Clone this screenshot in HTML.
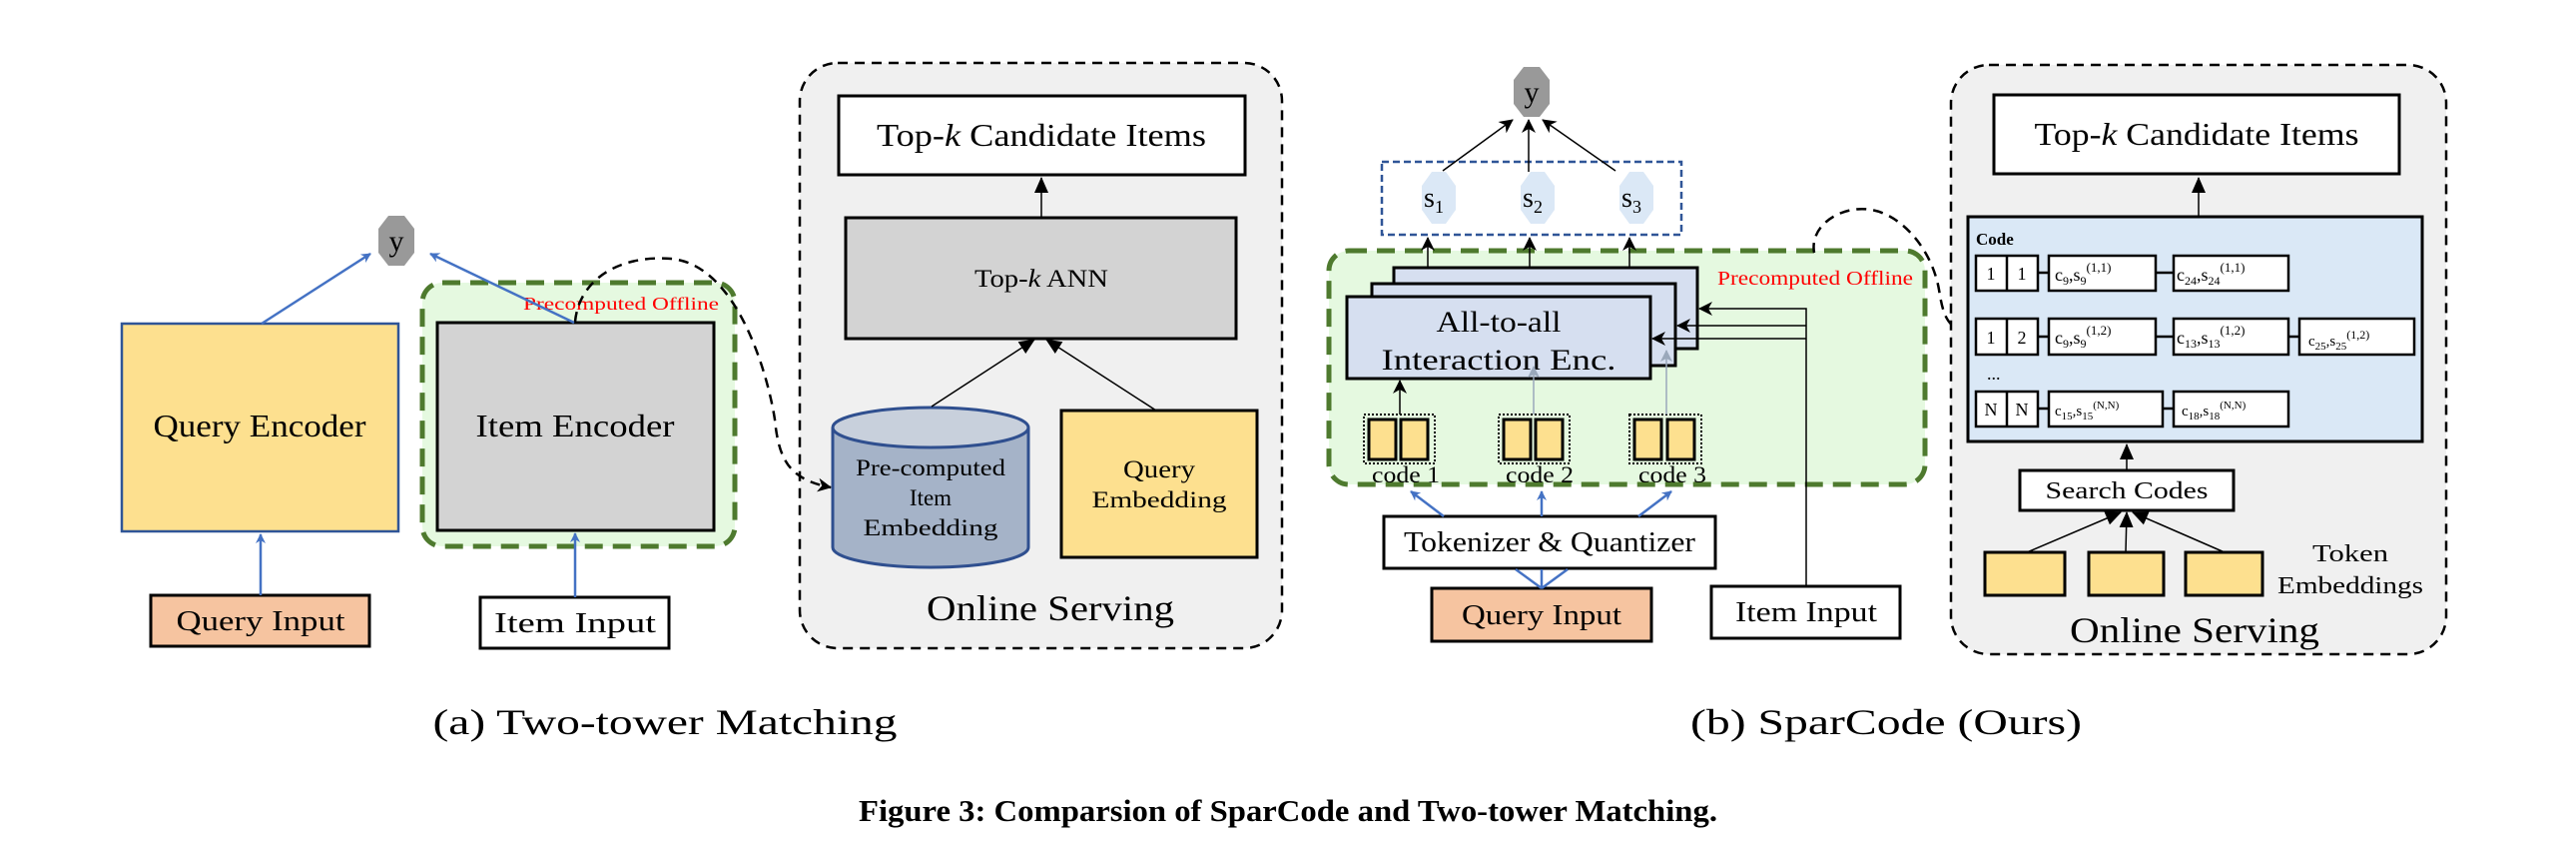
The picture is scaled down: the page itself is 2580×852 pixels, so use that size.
<!DOCTYPE html>
<html><head><meta charset="utf-8"><style>
html,body{margin:0;padding:0;background:#fff;}
svg{display:block;}
text{font-family:"Liberation Serif","DejaVu Serif",serif;fill:#000;}
</style></head><body>
<svg width="2580" height="852" viewBox="0 0 2580 852" xmlns="http://www.w3.org/2000/svg">
<defs>
<marker id="ab" markerWidth="10" markerHeight="10" refX="9" refY="5" orient="auto" markerUnits="userSpaceOnUse"><path d="M0,0 L10,5 L0,10 L3,5 z" fill="#4472c4"/></marker>
<marker id="ak" markerWidth="14" markerHeight="14" refX="13" refY="7" orient="auto" markerUnits="userSpaceOnUse"><path d="M0,0 L14,7 L0,14 L4,7 z" fill="#000"/></marker>
<marker id="akf" markerWidth="16" markerHeight="14" refX="15" refY="7" orient="auto" markerUnits="userSpaceOnUse"><path d="M0,0 L16,7 L0,14 z" fill="#000"/></marker>
<marker id="ag" markerWidth="12" markerHeight="12" refX="11" refY="6" orient="auto" markerUnits="userSpaceOnUse"><path d="M0,0 L12,6 L0,12 L3,6 z" fill="#9aa8bb"/></marker>
</defs>

<!-- ===== (a) ===== -->
<rect x="423" y="283" width="313" height="264" rx="20" fill="#e5f9e0" stroke="#4e7a2e" stroke-width="5" stroke-dasharray="18,10"/>
<rect x="122" y="324" width="277" height="208" fill="#fde08f" stroke="#2f5597" stroke-width="2.5"/>
<text x="260" y="437" font-size="32" text-anchor="middle" textLength="213" lengthAdjust="spacingAndGlyphs">Query Encoder</text>
<rect x="438" y="323" width="277" height="208" fill="#d3d3d3" stroke="#000" stroke-width="3"/>
<text x="576" y="437" font-size="32" text-anchor="middle" textLength="199" lengthAdjust="spacingAndGlyphs">Item Encoder</text>
<text x="622" y="310" font-size="18" text-anchor="middle" style="fill:#ff0000" textLength="196" lengthAdjust="spacingAndGlyphs">Precomputed Offline</text>
<polygon points="389,216 405,216 415,229 415,253 405,266 389,266 379,253 379,229" fill="#999"/>
<text x="397" y="251" font-size="30" text-anchor="middle">y</text>
<line x1="262" y1="324" x2="371" y2="254" stroke="#4472c4" stroke-width="2.5" marker-end="url(#ab)"/>
<line x1="575" y1="323" x2="431" y2="254" stroke="#4472c4" stroke-width="2.5" marker-end="url(#ab)"/>
<rect x="151" y="596" width="219" height="51" fill="#f6c4a0" stroke="#000" stroke-width="3"/>
<text x="261" y="631" font-size="28" text-anchor="middle" textLength="169" lengthAdjust="spacingAndGlyphs">Query Input</text>
<rect x="481" y="598" width="189" height="51" fill="#fff" stroke="#000" stroke-width="3"/>
<text x="576" y="633" font-size="28" text-anchor="middle" textLength="162" lengthAdjust="spacingAndGlyphs">Item Input</text>
<line x1="261" y1="596" x2="261" y2="535" stroke="#4472c4" stroke-width="2.5" marker-end="url(#ab)"/>
<line x1="576" y1="598" x2="576" y2="534" stroke="#4472c4" stroke-width="2.5" marker-end="url(#ab)"/>
<rect x="801" y="63" width="483" height="586" rx="38" fill="#f0f0f0" stroke="#000" stroke-width="2.5" stroke-dasharray="10,7"/>
<rect x="840" y="96" width="407" height="79" fill="#fff" stroke="#000" stroke-width="3"/>
<text x="1043" y="146" font-size="32" text-anchor="middle" textLength="330" lengthAdjust="spacingAndGlyphs">Top-<tspan font-style="italic">k</tspan> Candidate Items</text>
<rect x="847" y="218" width="391" height="121" fill="#d3d3d3" stroke="#000" stroke-width="3"/>
<text x="1043" y="287" font-size="25" text-anchor="middle" textLength="134" lengthAdjust="spacingAndGlyphs">Top-<tspan font-style="italic">k</tspan> ANN</text>
<line x1="1043" y1="218" x2="1043" y2="178" stroke="#000" stroke-width="1.5" marker-end="url(#akf)"/>
<path d="M834,428 L834,548 A98,20 0 0 0 1030,548 L1030,428" fill="#a5b3c8" stroke="#2f4f8f" stroke-width="3"/>
<ellipse cx="932" cy="428" rx="98" ry="20" fill="#c8d0dc" stroke="#2f4f8f" stroke-width="3"/>
<text x="932" y="476" font-size="23" text-anchor="middle" textLength="150" lengthAdjust="spacingAndGlyphs">Pre-computed</text>
<text x="932" y="506" font-size="23" text-anchor="middle">Item</text>
<text x="932" y="536" font-size="23" text-anchor="middle" textLength="135" lengthAdjust="spacingAndGlyphs">Embedding</text>
<rect x="1063" y="411" width="196" height="147" fill="#fde08f" stroke="#000" stroke-width="3"/>
<text x="1161" y="478" font-size="25" text-anchor="middle" textLength="72" lengthAdjust="spacingAndGlyphs">Query</text>
<text x="1161" y="508" font-size="23" text-anchor="middle" textLength="135" lengthAdjust="spacingAndGlyphs">Embedding</text>
<line x1="933" y1="407" x2="1036" y2="340" stroke="#000" stroke-width="1.5" marker-end="url(#akf)"/>
<line x1="1158" y1="411" x2="1048" y2="340" stroke="#000" stroke-width="1.5" marker-end="url(#akf)"/>
<text x="1052" y="621" font-size="36" text-anchor="middle" textLength="248" lengthAdjust="spacingAndGlyphs">Online Serving</text>
<path d="M576,322 C580,280 620,255 672,259 C740,265 770,380 776,420 C780,460 790,480 832,488" fill="none" stroke="#000" stroke-width="2.5" stroke-dasharray="10,7" marker-end="url(#ak)"/>

<!-- ===== (b) ===== -->
<rect x="1331" y="251" width="597" height="234" rx="20" fill="#e5f9e0" stroke="#4e7a2e" stroke-width="5" stroke-dasharray="18,10"/>
<text x="1818" y="285" font-size="20" text-anchor="middle" style="fill:#ff0000" textLength="196" lengthAdjust="spacingAndGlyphs">Precomputed Offline</text>
<rect x="1384" y="162" width="300" height="73" fill="none" stroke="#2f5597" stroke-width="2.5" stroke-dasharray="7,4"/>
<g fill="#dbe8f6">
<polygon points="1434,172 1448,172 1458,186 1458,210 1448,224 1434,224 1424,210 1424,186"/>
<polygon points="1533,172 1547,172 1557,186 1557,210 1547,224 1533,224 1523,210 1523,186"/>
<polygon points="1632,172 1646,172 1656,186 1656,210 1646,224 1632,224 1622,210 1622,186"/>
</g>
<text x="1436" y="207" font-size="28" text-anchor="middle">s<tspan font-size="18" dy="6">1</tspan></text>
<text x="1535" y="207" font-size="28" text-anchor="middle">s<tspan font-size="18" dy="6">2</tspan></text>
<text x="1634" y="207" font-size="28" text-anchor="middle">s<tspan font-size="18" dy="6">3</tspan></text>
<polygon points="1526,67 1542,67 1552,80 1552,104 1542,117 1526,117 1516,104 1516,80" fill="#999"/>
<text x="1534" y="102" font-size="30" text-anchor="middle">y</text>
<line x1="1445" y1="171" x2="1515" y2="120" stroke="#000" stroke-width="1.5" marker-end="url(#ak)"/>
<line x1="1531" y1="172" x2="1531" y2="120" stroke="#000" stroke-width="1.5" marker-end="url(#ak)"/>
<line x1="1618" y1="171" x2="1545" y2="120" stroke="#000" stroke-width="1.5" marker-end="url(#ak)"/>
<rect x="1396" y="268" width="304" height="81" fill="#d6dff0" stroke="#000" stroke-width="3"/>
<rect x="1374" y="284" width="304" height="82" fill="#d6dff0" stroke="#000" stroke-width="3"/>
<rect x="1349" y="297" width="304" height="82" fill="#d6dff0" stroke="#000" stroke-width="3"/>
<text x="1501" y="332" font-size="30" text-anchor="middle" textLength="125" lengthAdjust="spacingAndGlyphs">All-to-all</text>
<text x="1501" y="370" font-size="30" text-anchor="middle" textLength="235" lengthAdjust="spacingAndGlyphs">Interaction Enc.</text>
<line x1="1430" y1="268" x2="1430" y2="238" stroke="#000" stroke-width="1.5" marker-end="url(#ak)"/>
<line x1="1532" y1="268" x2="1532" y2="238" stroke="#000" stroke-width="1.5" marker-end="url(#ak)"/>
<line x1="1632" y1="268" x2="1632" y2="238" stroke="#000" stroke-width="1.5" marker-end="url(#ak)"/>
<polyline points="1809,588 1809,309 1702,309" fill="none" stroke="#000" stroke-width="1.5" marker-end="url(#ak)"/>
<polyline points="1809,326 1680,326" fill="none" stroke="#000" stroke-width="1.5" marker-end="url(#ak)"/>
<polyline points="1809,339 1655,339" fill="none" stroke="#000" stroke-width="1.5" marker-end="url(#ak)"/>
<g stroke="#000">
<rect x="1366" y="415" width="71" height="49" fill="none" stroke-width="2" stroke-dasharray="2,2"/>
<rect x="1371" y="420" width="27" height="40" fill="#fde08f" stroke-width="3"/>
<rect x="1403" y="420" width="27" height="40" fill="#fde08f" stroke-width="3"/>
<rect x="1501" y="415" width="71" height="49" fill="none" stroke-width="2" stroke-dasharray="2,2"/>
<rect x="1506" y="420" width="27" height="40" fill="#fde08f" stroke-width="3"/>
<rect x="1538" y="420" width="27" height="40" fill="#fde08f" stroke-width="3"/>
<rect x="1632" y="415" width="72" height="49" fill="none" stroke-width="2" stroke-dasharray="2,2"/>
<rect x="1637" y="420" width="27" height="40" fill="#fde08f" stroke-width="3"/>
<rect x="1670" y="420" width="27" height="40" fill="#fde08f" stroke-width="3"/>
</g>
<line x1="1402" y1="415" x2="1402" y2="381" stroke="#000" stroke-width="1.5" marker-end="url(#ak)"/>
<line x1="1536" y1="415" x2="1536" y2="367" stroke="#9aa8bb" stroke-width="1.5" marker-end="url(#ag)"/>
<line x1="1669" y1="415" x2="1669" y2="351" stroke="#9aa8bb" stroke-width="1.5" marker-end="url(#ag)"/>
<text x="1408" y="483" font-size="23" text-anchor="middle" textLength="68" lengthAdjust="spacingAndGlyphs">code 1</text>
<text x="1542" y="483" font-size="23" text-anchor="middle" textLength="68" lengthAdjust="spacingAndGlyphs">code 2</text>
<text x="1675" y="483" font-size="23" text-anchor="middle" textLength="68" lengthAdjust="spacingAndGlyphs">code 3</text>
<rect x="1386" y="517" width="332" height="52" fill="#fff" stroke="#000" stroke-width="3"/>
<text x="1552" y="552" font-size="28" text-anchor="middle" textLength="292" lengthAdjust="spacingAndGlyphs">Tokenizer &amp; Quantizer</text>
<line x1="1446" y1="517" x2="1413" y2="492" stroke="#4472c4" stroke-width="2.5" marker-end="url(#ab)"/>
<line x1="1544" y1="517" x2="1544" y2="492" stroke="#4472c4" stroke-width="2.5" marker-end="url(#ab)"/>
<line x1="1641" y1="517" x2="1674" y2="492" stroke="#4472c4" stroke-width="2.5" marker-end="url(#ab)"/>
<rect x="1434" y="589" width="220" height="53" fill="#f6c4a0" stroke="#000" stroke-width="3"/>
<text x="1544" y="625" font-size="28" text-anchor="middle" textLength="160" lengthAdjust="spacingAndGlyphs">Query Input</text>
<line x1="1544" y1="589" x2="1518" y2="570" stroke="#4472c4" stroke-width="2.5"/>
<line x1="1544" y1="589" x2="1570" y2="570" stroke="#4472c4" stroke-width="2.5"/>
<line x1="1544" y1="589" x2="1544" y2="570" stroke="#4472c4" stroke-width="2.5"/>
<rect x="1714" y="587" width="189" height="52" fill="#fff" stroke="#000" stroke-width="3"/>
<text x="1809" y="622" font-size="28" text-anchor="middle" textLength="142" lengthAdjust="spacingAndGlyphs">Item Input</text>
<path d="M1817,253 C1812,225 1845,205 1874,210 C1905,215 1935,250 1942,290 C1946,315 1950,328 1969,332" fill="none" stroke="#000" stroke-width="2.5" stroke-dasharray="10,7" marker-end="url(#ak)"/>
<rect x="1954" y="65" width="496" height="590" rx="38" fill="#f0f0f0" stroke="#000" stroke-width="2.5" stroke-dasharray="10,7"/>
<rect x="1997" y="95" width="406" height="79" fill="#fff" stroke="#000" stroke-width="3"/>
<text x="2200" y="145" font-size="32" text-anchor="middle" textLength="325" lengthAdjust="spacingAndGlyphs">Top-<tspan font-style="italic">k</tspan> Candidate Items</text>
<line x1="2202" y1="217" x2="2202" y2="178" stroke="#000" stroke-width="1.5" marker-end="url(#akf)"/>
<rect x="1971" y="217" width="455" height="225" fill="#dae8f6" stroke="#000" stroke-width="3"/>
<text x="1979" y="245" font-size="17" font-weight="bold" font-family="Liberation Sans, sans-serif">Code</text>
<g stroke="#000" stroke-width="2.5" fill="#fff">
<rect x="1979" y="256" width="62" height="35"/><line x1="2010" y1="256" x2="2010" y2="291"/>
<rect x="2052" y="256" width="107" height="35"/>
<rect x="2177" y="256" width="115" height="35"/>
<line x1="2041" y1="273" x2="2052" y2="273"/><line x1="2159" y1="273" x2="2177" y2="273"/>
<rect x="1979" y="319" width="62" height="36"/><line x1="2010" y1="319" x2="2010" y2="355"/>
<rect x="2052" y="319" width="107" height="36"/>
<rect x="2177" y="319" width="115" height="36"/>
<rect x="2303" y="319" width="115" height="36"/>
<line x1="2041" y1="337" x2="2052" y2="337"/><line x1="2159" y1="337" x2="2177" y2="337"/><line x1="2292" y1="337" x2="2303" y2="337"/>
<rect x="1979" y="392" width="62" height="35"/><line x1="2010" y1="392" x2="2010" y2="427"/>
<rect x="2052" y="392" width="114" height="35"/>
<rect x="2177" y="392" width="115" height="35"/>
<line x1="2041" y1="409" x2="2052" y2="409"/><line x1="2166" y1="409" x2="2177" y2="409"/>
</g>
<g font-size="18" text-anchor="middle">
<text x="1994" y="280">1</text><text x="2025" y="280">1</text>
<text x="1994" y="344">1</text><text x="2025" y="344">2</text>
<text x="1994" y="416">N</text><text x="2025" y="416">N</text>
</g>
<g font-size="18">
<text x="2058" y="281">c<tspan font-size="12" dy="4">9</tspan><tspan dy="-4">,s</tspan><tspan font-size="12" dy="4">9</tspan><tspan font-size="13" dy="-13">(1,1)</tspan></text>
<text x="2180" y="281">c<tspan font-size="12" dy="4">24</tspan><tspan dy="-4">,s</tspan><tspan font-size="12" dy="4">24</tspan><tspan font-size="13" dy="-13">(1,1)</tspan></text>
<text x="2058" y="344">c<tspan font-size="12" dy="4">9</tspan><tspan dy="-4">,s</tspan><tspan font-size="12" dy="4">9</tspan><tspan font-size="13" dy="-13">(1,2)</tspan></text>
<text x="2180" y="344">c<tspan font-size="12" dy="4">13</tspan><tspan dy="-4">,s</tspan><tspan font-size="12" dy="4">13</tspan><tspan font-size="13" dy="-13">(1,2)</tspan></text>
<text x="2312" y="346" font-size="15">c<tspan font-size="11" dy="4">25</tspan><tspan dy="-4">,s</tspan><tspan font-size="11" dy="4">25</tspan><tspan font-size="12" dy="-11">(1,2)</tspan></text>
<text x="2058" y="416" font-size="15">c<tspan font-size="11" dy="4">15</tspan><tspan dy="-4">,s</tspan><tspan font-size="11" dy="4">15</tspan><tspan font-size="11" dy="-11">(N,N)</tspan></text>
<text x="2185" y="416" font-size="15">c<tspan font-size="11" dy="4">18</tspan><tspan dy="-4">,s</tspan><tspan font-size="11" dy="4">18</tspan><tspan font-size="11" dy="-11">(N,N)</tspan></text>
</g>
<text x="1990" y="380" font-size="18">...</text>
<line x1="2130" y1="471" x2="2130" y2="445" stroke="#000" stroke-width="1.5" marker-end="url(#akf)"/>
<rect x="2023" y="471" width="214" height="40" fill="#fff" stroke="#000" stroke-width="3"/>
<text x="2130" y="499" font-size="24" text-anchor="middle" font-family="Liberation Sans, sans-serif" textLength="163" lengthAdjust="spacingAndGlyphs">Search Codes</text>
<g fill="#fde08f" stroke="#000" stroke-width="3">
<rect x="1988" y="553" width="80" height="43"/>
<rect x="2092" y="553" width="75" height="43"/>
<rect x="2189" y="553" width="77" height="43"/>
</g>
<line x1="2030" y1="553" x2="2124" y2="513" stroke="#000" stroke-width="1.5" marker-end="url(#akf)"/>
<line x1="2129" y1="553" x2="2130" y2="513" stroke="#000" stroke-width="1.5" marker-end="url(#akf)"/>
<line x1="2228" y1="553" x2="2136" y2="513" stroke="#000" stroke-width="1.5" marker-end="url(#akf)"/>
<text x="2354" y="562" font-size="24" text-anchor="middle" textLength="76" lengthAdjust="spacingAndGlyphs">Token</text>
<text x="2354" y="594" font-size="24" text-anchor="middle" textLength="146" lengthAdjust="spacingAndGlyphs">Embeddings</text>
<text x="2198" y="643" font-size="36" text-anchor="middle" textLength="250" lengthAdjust="spacingAndGlyphs">Online Serving</text>

<text x="666" y="735" font-size="36" text-anchor="middle" textLength="465" lengthAdjust="spacingAndGlyphs">(a) Two-tower Matching</text>
<text x="1889" y="735" font-size="36" text-anchor="middle" textLength="392" lengthAdjust="spacingAndGlyphs">(b) SparCode (Ours)</text>
<text x="1290" y="822" font-size="31" font-weight="bold" text-anchor="middle" textLength="860" lengthAdjust="spacingAndGlyphs">Figure 3: Comparsion of SparCode and Two-tower Matching.</text>
</svg>
</body></html>
